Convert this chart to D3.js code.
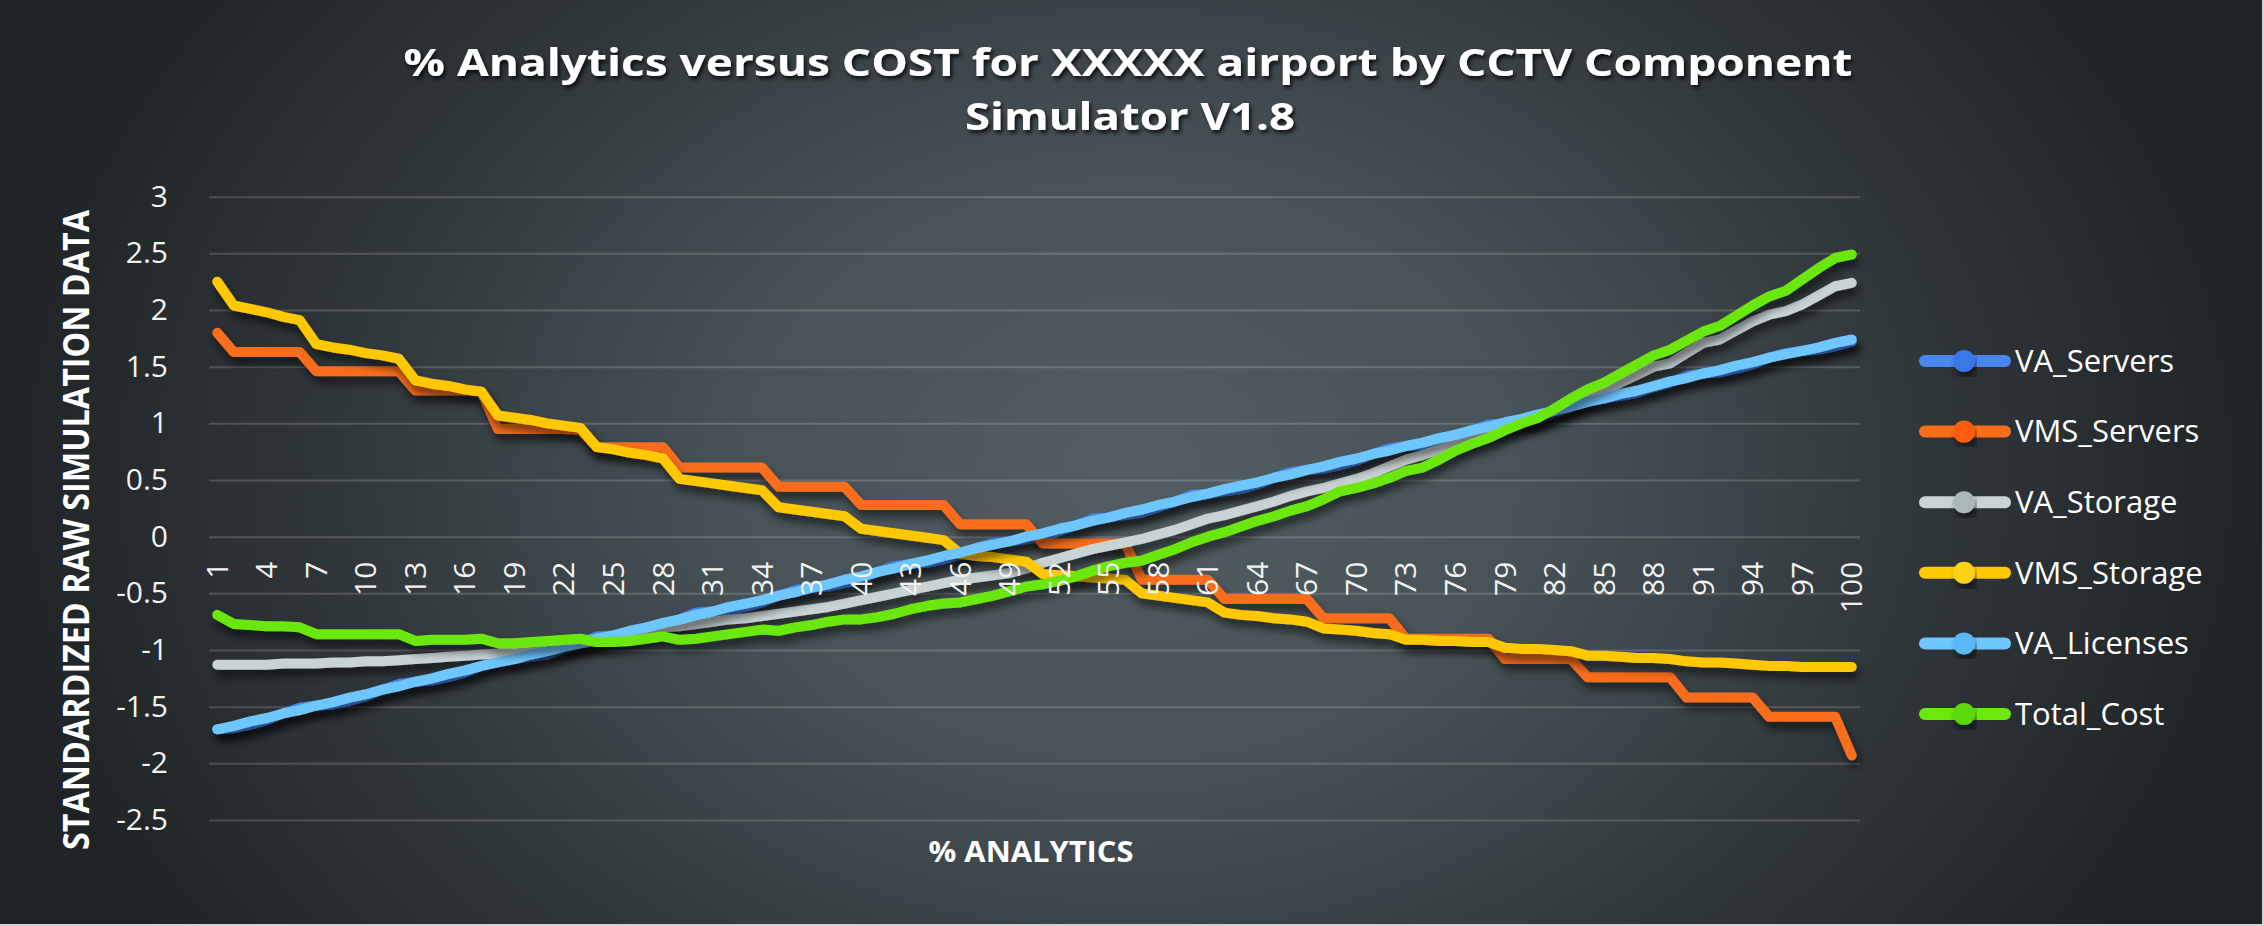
<!DOCTYPE html>
<html>
<head>
<meta charset="utf-8">
<script src="https://cdn.jsdelivr.net/npm/d3@7"></script>
<style>
  html, body { margin: 0; padding: 0; background: #1f2325; }
  svg { display: block; }
  text { font-family: "Open Sans", "Noto Sans", sans-serif; }
</style>
</head>
<body>
<svg id="chart" width="2264" height="926"></svg>
<script>
// ---- data ----
var categories = d3.range(1, 101);                       // % analytics 1..100
var xTickLabels = categories.filter(function(d) { return (d - 1) % 3 === 0; });
var yTicks = [-2.5, -2, -1.5, -1, -0.5, 0, 0.5, 1, 1.5, 2, 2.5, 3];
var seriesNames = ["VA_Servers", "VMS_Servers", "VA_Storage", "VMS_Storage", "VA_Licenses", "Total_Cost"];

var vaServers = [
  -1.70, -1.69, -1.66, -1.62, -1.56, -1.51, -1.49, -1.48, -1.45, -1.41,
  -1.35, -1.30, -1.28, -1.27, -1.24, -1.20, -1.14, -1.09, -1.08, -1.06,
  -1.04, -0.99, -0.94, -0.88, -0.87, -0.85, -0.83, -0.78, -0.73, -0.67,
  -0.66, -0.64, -0.62, -0.58, -0.52, -0.47, -0.45, -0.44, -0.41, -0.37,
  -0.31, -0.26, -0.24, -0.23, -0.20, -0.16, -0.10, -0.05, -0.04, -0.02,
   0.00,  0.05,  0.10,  0.16,  0.17,  0.19,  0.21,  0.26,  0.31,  0.37,
   0.38,  0.40,  0.42,  0.46,  0.52,  0.57,  0.59,  0.60,  0.63,  0.67,
   0.73,  0.78,  0.80,  0.81,  0.84,  0.88,  0.94,  0.99,  1.00,  1.02,
   1.04,  1.09,  1.14,  1.20,  1.22,  1.24,  1.27,  1.32,  1.36,  1.42,
   1.44,  1.45,  1.48,  1.52,  1.58,  1.62,  1.64,  1.65,  1.68,  1.72
];
var vmsServers = [
   1.80,  1.63,  1.63,  1.63,  1.63,  1.63,  1.46,  1.46,  1.46,  1.46,
   1.46,  1.46,  1.29,  1.29,  1.29,  1.29,  1.28,  0.95,  0.95,  0.95,
   0.95,  0.95,  0.94,  0.79,  0.79,  0.79,  0.79,  0.79,  0.61,  0.61,
   0.61,  0.61,  0.61,  0.61,  0.44,  0.44,  0.44,  0.44,  0.44,  0.28,
   0.28,  0.28,  0.28,  0.28,  0.28,  0.11,  0.11,  0.11,  0.11,  0.11,
  -0.06, -0.06, -0.06, -0.06, -0.06, -0.06, -0.38, -0.38, -0.38, -0.38,
  -0.38, -0.55, -0.55, -0.55, -0.55, -0.55, -0.55, -0.72, -0.72, -0.72,
  -0.72, -0.72, -0.90, -0.90, -0.90, -0.90, -0.90, -0.90, -1.08, -1.08,
  -1.08, -1.08, -1.08, -1.24, -1.24, -1.24, -1.24, -1.24, -1.24, -1.42,
  -1.42, -1.42, -1.42, -1.42, -1.59, -1.59, -1.59, -1.59, -1.59, -1.93
];
var vaStorage = [
  -1.13, -1.13, -1.13, -1.13, -1.12, -1.12, -1.12, -1.11, -1.11, -1.10,
  -1.10, -1.09, -1.08, -1.07, -1.06, -1.05, -1.04, -1.03, -1.01, -0.99,
  -0.97, -0.96, -0.94, -0.92, -0.89, -0.86, -0.83, -0.80, -0.79, -0.77,
  -0.75, -0.73, -0.72, -0.70, -0.68, -0.66, -0.64, -0.62, -0.59, -0.56,
  -0.53, -0.50, -0.47, -0.44, -0.41, -0.38, -0.36, -0.34, -0.32, -0.28,
  -0.23, -0.19, -0.15, -0.11, -0.08, -0.05, -0.02,  0.02,  0.06,  0.11,
   0.16,  0.19,  0.23,  0.27,  0.31,  0.36,  0.40,  0.43,  0.47,  0.51,
   0.56,  0.62,  0.68,  0.72,  0.77,  0.82,  0.87,  0.91,  0.96,  1.01,
   1.06,  1.12,  1.17,  1.22,  1.29,  1.36,  1.43,  1.50,  1.53,  1.62,
   1.71,  1.74,  1.82,  1.90,  1.96,  1.99,  2.05,  2.13,  2.21,  2.24
];
var vmsStorage = [
   2.25,  2.04,  2.01,  1.98,  1.94,  1.91,  1.70,  1.67,  1.65,  1.62,
   1.60,  1.57,  1.38,  1.35,  1.33,  1.30,  1.28,  1.07,  1.05,  1.03,
   1.00,  0.98,  0.96,  0.79,  0.77,  0.74,  0.72,  0.69,  0.51,  0.49,
   0.47,  0.45,  0.43,  0.41,  0.26,  0.24,  0.22,  0.20,  0.18,  0.07,
   0.05,  0.03,  0.01, -0.01, -0.03, -0.15, -0.17, -0.18, -0.20, -0.22,
  -0.33, -0.34, -0.35, -0.36, -0.37, -0.38, -0.50, -0.52, -0.54, -0.56,
  -0.58, -0.67, -0.69, -0.70, -0.72, -0.73, -0.75, -0.81, -0.82, -0.83,
  -0.85, -0.86, -0.91, -0.91, -0.92, -0.92, -0.93, -0.93, -0.98, -0.99,
  -0.99, -1.00, -1.01, -1.05, -1.05, -1.06, -1.07, -1.07, -1.08, -1.10,
  -1.11, -1.11, -1.12, -1.13, -1.14, -1.14, -1.15, -1.15, -1.15, -1.15
];
var vaLicenses = [
  -1.70, -1.67, -1.63, -1.60, -1.56, -1.53, -1.49, -1.46, -1.42, -1.39,
  -1.35, -1.32, -1.28, -1.25, -1.21, -1.18, -1.14, -1.11, -1.08, -1.04,
  -1.01, -0.97, -0.94, -0.90, -0.87, -0.83, -0.80, -0.76, -0.73, -0.69,
  -0.66, -0.62, -0.59, -0.56, -0.52, -0.49, -0.45, -0.42, -0.38, -0.35,
  -0.31, -0.28, -0.24, -0.21, -0.17, -0.14, -0.10, -0.07, -0.04,  0.00,
   0.03,  0.07,  0.10,  0.14,  0.17,  0.21,  0.24,  0.28,  0.31,  0.35,
   0.38,  0.42,  0.45,  0.48,  0.52,  0.55,  0.59,  0.62,  0.66,  0.69,
   0.73,  0.76,  0.80,  0.83,  0.87,  0.90,  0.94,  0.97,  1.01,  1.04,
   1.08,  1.11,  1.15,  1.19,  1.22,  1.26,  1.29,  1.33,  1.37,  1.40,
   1.44,  1.47,  1.51,  1.54,  1.58,  1.61,  1.64,  1.67,  1.71,  1.74
];
var totalCost = [
  -0.69, -0.77, -0.78, -0.79, -0.79, -0.80, -0.86, -0.86, -0.86, -0.86,
  -0.86, -0.86, -0.92, -0.91, -0.91, -0.91, -0.90, -0.94, -0.94, -0.93,
  -0.92, -0.91, -0.90, -0.93, -0.93, -0.92, -0.90, -0.88, -0.91, -0.90,
  -0.88, -0.86, -0.84, -0.82, -0.83, -0.80, -0.78, -0.75, -0.73, -0.73,
  -0.71, -0.68, -0.64, -0.61, -0.59, -0.58, -0.55, -0.52, -0.48, -0.44,
  -0.42, -0.39, -0.35, -0.30, -0.26, -0.23, -0.21, -0.16, -0.11, -0.05,
   0.00,  0.04,  0.09,  0.14,  0.18,  0.23,  0.27,  0.33,  0.40,  0.43,
   0.47,  0.52,  0.58,  0.61,  0.68,  0.76,  0.82,  0.87,  0.94,  1.00,
   1.05,  1.13,  1.22,  1.30,  1.36,  1.44,  1.52,  1.60,  1.65,  1.73,
   1.81,  1.86,  1.95,  2.04,  2.12,  2.17,  2.27,  2.37,  2.46,  2.49
];

var seriesValues = [vaServers, vmsServers, vaStorage, vmsStorage, vaLicenses, totalCost];
var lineColors   = ["#4a86f0", "#f96d1a", "#c9d3d3", "#ffc800", "#6ec6ff", "#6be80c"];
var markerColors = ["#3a76e6", "#ff5c0e", "#aab7b7", "#ffd218", "#5ab8f6", "#5cd808"];

// ---- layout ----
var W = 2264, H = 926;
var plotLeft = 209, plotRight = 1860, plotTop = 196.7, plotBottom = 820;

var svg = d3.select("#chart");
var defs = svg.append("defs");

var bg = defs.append("radialGradient").attr("id", "bg")
    .attr("gradientUnits", "userSpaceOnUse")
    .attr("cx", 1130).attr("cy", 470).attr("r", 1150)
    .attr("gradientTransform", "translate(1130,470) scale(1,0.75) translate(-1130,-470)");
bg.append("stop").attr("offset", "0%").attr("stop-color", "#525e62");
bg.append("stop").attr("offset", "35%").attr("stop-color", "#475256");
bg.append("stop").attr("offset", "70%").attr("stop-color", "#2f363a");
bg.append("stop").attr("offset", "100%").attr("stop-color", "#1f2325");

defs.append("filter").attr("id", "lineShadow")
    .attr("x", "-5%").attr("y", "-20%").attr("width", "110%").attr("height", "140%")
  .append("feDropShadow")
    .attr("dx", 3).attr("dy", 7).attr("stdDeviation", 4)
    .attr("flood-color", "#000").attr("flood-opacity", 0.55);

defs.append("filter").attr("id", "textShadow")
    .attr("x", "-5%").attr("y", "-30%").attr("width", "110%").attr("height", "160%")
  .append("feDropShadow")
    .attr("dx", 2).attr("dy", 3).attr("stdDeviation", 2)
    .attr("flood-color", "#000").attr("flood-opacity", 0.8);

svg.append("rect").attr("width", W).attr("height", H).attr("fill", "url(#bg)");

// thin light border on right / bottom like the source image
svg.append("line").attr("x1", W - 1).attr("x2", W - 1).attr("y1", 0).attr("y2", H)
    .attr("stroke", "#cfd3d3").attr("stroke-width", 2);
svg.append("line").attr("x1", 0).attr("x2", W).attr("y1", H - 1).attr("y2", H - 1)
    .attr("stroke", "#cfd3d3").attr("stroke-width", 2);

// ---- scales ----
var x = d3.scaleBand().domain(categories).range([plotLeft, plotRight]);
var y = d3.scaleLinear().domain([-2.5, 3]).range([plotBottom, plotTop]);
function px(d) { return x(d) + x.bandwidth() / 2; }

// ---- y axis + gridlines ----
var yAxis = svg.append("g")
    .attr("transform", "translate(" + plotLeft + ",0)")
    .call(d3.axisLeft(y)
        .tickValues(yTicks)
        .tickSize(-(plotRight - plotLeft))
        .tickPadding(41)
        .tickFormat(function(d) { return String(d); }));
yAxis.select(".domain").remove();
yAxis.selectAll(".tick line")
    .attr("stroke", "rgba(255,255,255,0.17)").attr("stroke-width", 2);
yAxis.selectAll(".tick text")
    .attr("fill", "#f2f2f2").style("font-size", "30px")
    .style("font-family", "'Open Sans', sans-serif");

// ---- lines ----
var line = d3.line()
    .x(function(d, i) { return px(categories[i]); })
    .y(function(d) { return y(d); });

svg.append("g").selectAll("path").data(seriesValues)
    .enter().append("path")
    .attr("d", line)
    .attr("fill", "none")
    .attr("stroke", function(d, i) { return lineColors[i]; })
    .attr("stroke-width", 10)
    .attr("stroke-linejoin", "round")
    .attr("stroke-linecap", "round")
    .attr("filter", "url(#lineShadow)");

// ---- x axis (labels sit just under the zero line, rotated, drawn over the lines) ----
var xAxis = svg.append("g")
    .attr("transform", "translate(0," + y(0) + ")")
    .call(d3.axisBottom(x).tickValues(xTickLabels).tickSize(0));
xAxis.select(".domain").remove();
xAxis.selectAll(".tick text")
    .attr("transform", "rotate(-90)")
    .attr("x", -25).attr("y", 0).attr("dy", "0.35em")
    .attr("text-anchor", "end")
    .attr("fill", "#f2f2f2").style("font-size", "30px")
    .style("font-family", "'Open Sans', sans-serif");

// ---- titles ----
var title = svg.append("g").attr("filter", "url(#textShadow)")
    .attr("fill", "#ffffff").style("font-weight", "bold");
title.append("text")
    .attr("x", 1128).attr("y", 76).attr("text-anchor", "middle")
    .attr("textLength", 1449).attr("lengthAdjust", "spacingAndGlyphs")
    .style("font-size", "37px")
    .text("% Analytics versus COST for XXXXX airport by CCTV Component");
title.append("text")
    .attr("x", 1130).attr("y", 130).attr("text-anchor", "middle")
    .attr("textLength", 330).attr("lengthAdjust", "spacingAndGlyphs")
    .style("font-size", "37px")
    .text("Simulator V1.8");

svg.append("text")
    .attr("transform", "translate(89,530) rotate(-90)")
    .attr("text-anchor", "middle")
    .attr("textLength", 640).attr("lengthAdjust", "spacingAndGlyphs")
    .attr("fill", "#ffffff").style("font-weight", "bold").style("font-size", "35px")
    .text("STANDARDIZED RAW SIMULATION DATA");

svg.append("text")
    .attr("x", 1031).attr("y", 862).attr("text-anchor", "middle")
    .attr("textLength", 205).attr("lengthAdjust", "spacingAndGlyphs")
    .attr("fill", "#ffffff").style("font-weight", "bold").style("font-size", "28px")
    .text("% ANALYTICS");

// ---- legend ----
var legend = svg.append("g").selectAll("g").data(seriesNames)
    .enter().append("g")
    .attr("transform", function(d, i) { return "translate(0," + (361 + i * 70.6) + ")"; });

legend.append("line")
    .attr("x1", 1925).attr("x2", 2005).attr("y1", 0).attr("y2", 0)
    .attr("stroke", function(d, i) { return lineColors[i]; })
    .attr("stroke-width", 12).attr("stroke-linecap", "round");
legend.append("circle")
    .attr("cx", 1964).attr("cy", 0).attr("r", 11)
    .attr("fill", function(d, i) { return markerColors[i]; })
    .attr("filter", "url(#lineShadow)");
legend.append("text")
    .attr("x", 2015).attr("y", 0).attr("dy", "0.35em")
    .attr("fill", "#ffffff").style("font-size", "31px")
    .text(function(d) { return d; });
</script>
</body>
</html>
